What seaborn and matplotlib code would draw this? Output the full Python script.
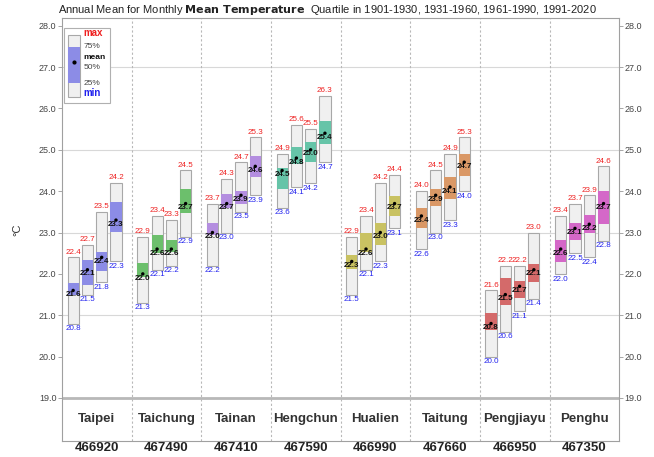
import numpy as np
import pandas as pd
import matplotlib
matplotlib.use("Agg")
import matplotlib.pyplot as plt
import seaborn as sns
from matplotlib.patches import Rectangle

stations = ["Taipei", "Taichung", "Tainan", "Hengchun", "Hualien", "Taitung", "Pengjiayu", "Penghu"]
station_ids = ["466920", "467490", "467410", "467590", "466990", "467660", "466950", "467350"]
periods = ["1901-1930", "1931-1960", "1961-1990", "1991-2020"]
colors = ["#8c8ce6", "#6cbf6c", "#b48ee0", "#66c4a8", "#c9c262", "#da9866", "#d46a6a", "#d468c8"]

t_max = [[22.4, 22.7, 23.5, 24.2], [22.9, 23.4, 23.3, 24.5], [23.7, 24.3, 24.7, 25.3],
         [24.9, 25.6, 25.5, 26.3], [22.9, 23.4, 24.2, 24.4], [24.0, 24.5, 24.9, 25.3],
         [21.6, 22.2, 22.2, 23.0], [23.4, 23.7, 23.9, 24.6]]
t_min = [[20.8, 21.5, 21.8, 22.3], [21.3, 22.1, 22.2, 22.9], [22.2, 23.0, 23.5, 23.9],
         [23.6, 24.1, 24.2, 24.7], [21.5, 22.1, 22.3, 23.1], [22.6, 23.0, 23.3, 24.0],
         [20.0, 20.6, 21.1, 21.4], [22.0, 22.5, 22.4, 22.8]]
t_mean = [[21.6, 22.1, 22.4, 23.3], [22.0, 22.6, 22.6, 23.7], [23.0, 23.7, 23.9, 24.6],
          [24.5, 24.8, 25.0, 25.4], [22.3, 22.6, 23.0, 23.7], [23.4, 23.9, 24.1, 24.7],
          [20.8, 21.5, 21.7, 22.1], [22.6, 23.1, 23.2, 23.7]]
t_q75 = [[21.77, 22.33, 22.53, 23.73], [22.27, 22.95, 22.83, 24.06], [23.22, 23.92, 24.0, 24.86],
         [24.55, 25.07, 25.2, 25.7], [22.45, 23.0, 23.22, 23.89], [23.6, 24.06, 24.33, 24.9],
         [21.05, 21.89, 21.84, 22.25], [22.83, 23.22, 23.43, 24.0]]
t_q25 = [[21.48, 21.72, 22.07, 23.01], [21.93, 22.5, 22.54, 23.46], [22.93, 23.6, 23.7, 24.33],
         [24.04, 24.66, 24.7, 25.15], [22.13, 22.52, 22.69, 23.39], [23.12, 23.63, 23.82, 24.37],
         [20.64, 21.24, 21.41, 21.8], [22.28, 22.83, 22.98, 23.2]]

rows = []
for i, st in enumerate(stations):
    for k, p in enumerate(periods):
        rows.append(dict(station=st, idx=i, k=k, period=p,
                         vmax=t_max[i][k], vmin=t_min[i][k], tmean=t_mean[i][k],
                         q75=t_q75[i][k], q25=t_q25[i][k]))
df = pd.DataFrame(rows)
OFF0, STEP, BW = 0.16, 0.205, 0.16
df["x"] = df["idx"] + OFF0 + STEP * df["k"]

sns.set_theme(style="white")
plt.rcParams["font.family"] = ["Liberation Sans", "DejaVu Sans"]

fig = plt.figure(figsize=(6.54, 4.57), dpi=100)
ax = fig.add_axes([0.0948, 0.035, 0.852, 0.926])
YMIN, YMAX = 17.96, 28.19
ax.set_xlim(0, 8)
ax.set_ylim(YMIN, YMAX)

# grid
for g in [21, 23, 25, 27]:
    ax.axhline(g, color="#d8d8d8", lw=0.8, zorder=0)
for i in range(1, 8):
    ax.axvline(i, color="#b8b8b8", lw=0.8, ls=(0, (2, 2)), zorder=0)
ax.axhline(19.0, color="#b8b8b8", lw=2.0, zorder=1)

# boxes
for r in df.itertuples():
    c = colors[int(r.idx)]
    ax.add_patch(Rectangle((r.x - BW / 2, r.vmin), BW, r.vmax - r.vmin,
                           facecolor="#f0f0f0", edgecolor="#a8a8a8", lw=0.8, zorder=2))
    ax.add_patch(Rectangle((r.x - BW / 2, r.q25), BW, r.q75 - r.q25,
                           facecolor=c, edgecolor="none", lw=0, zorder=3))
    ax.text(r.x, r.vmax + 0.04, f"{r.vmax:.1f}", color="#ee2020", fontsize=5.8,
            ha="center", va="bottom", zorder=5)
    ax.text(r.x, r.vmin - 0.04, f"{r.vmin:.1f}", color="#2020ee", fontsize=5.8,
            ha="center", va="top", zorder=5)
    ax.text(r.x, r.tmean - 0.1, f"{r.tmean:.1f}", color="#111111", fontsize=5.8,
            ha="center", va="center", zorder=5, fontweight="bold")

sns.scatterplot(data=df, x="x", y="tmean", ax=ax, color="black", s=6,
                edgecolor="none", zorder=6, legend=False)

# station names
for i, st in enumerate(stations):
    ax.text(i + 0.5, 18.5, st, ha="center", va="center", fontsize=9.5,
            fontweight="bold", color="#333333")

# legend box
ax.add_patch(Rectangle((0.03, 26.14), 0.66, 1.81, facecolor="white",
                       edgecolor="#b0b0b0", lw=0.8, zorder=7))
ax.add_patch(Rectangle((0.086, 26.28), 0.173, 1.5, facecolor="#f0f0f0",
                       edgecolor="#a8a8a8", lw=0.8, zorder=8))
ax.add_patch(Rectangle((0.086, 26.62), 0.173, 0.87, facecolor=colors[0],
                       edgecolor="none", zorder=9))
ax.plot([0.17], [27.13], "o", color="black", ms=2, zorder=10)
lx = 0.31
ax.text(lx, 27.83, "max", color="#ee2020", fontsize=7, fontweight="bold", va="center", zorder=10)
ax.text(lx, 27.49, "75%", color="#444444", fontsize=6, va="center", zorder=10)
ax.text(lx, 27.23, "mean", color="#111111", fontsize=6, fontweight="bold", va="center", zorder=10)
ax.text(lx, 27.0, "50%", color="#444444", fontsize=6, va="center", zorder=10)
ax.text(lx, 26.6, "25%", color="#444444", fontsize=6, va="center", zorder=10)
ax.text(lx, 26.38, "min", color="#2020ee", fontsize=7, fontweight="bold", va="center", zorder=10)

# axes styling
yt = np.arange(19, 29, 1.0)
ax.set_yticks(yt)
ax.set_yticklabels([f"{v:.1f}" for v in yt], fontsize=6.5, color="#444444")
ax.tick_params(axis="y", which="both", direction="out", length=3, width=0.6,
               color="#999999", left=True, right=True, labelright=True, pad=1)
ax.set_xticks(np.arange(8) + 0.5)
ax.set_xticklabels(station_ids, fontsize=9.5, fontweight="bold", color="#222222")
ax.tick_params(axis="x", length=0, pad=1)
ax.set_ylabel("°C", fontsize=8, color="#333333", labelpad=12)
ax.set_xlabel("")
for sp in ax.spines.values():
    sp.set_color("#a0a0a0")
    sp.set_linewidth(0.8)

fig.text(0.5, 0.978, "Annual Mean for Monthly $\\bf{Mean\\ Temperature}$  Quartile in "
         "1901-1930, 1931-1960, 1961-1990, 1991-2020",
         ha="center", va="center", fontsize=8, color="#222222")

fig.savefig("out.png", dpi=100)
